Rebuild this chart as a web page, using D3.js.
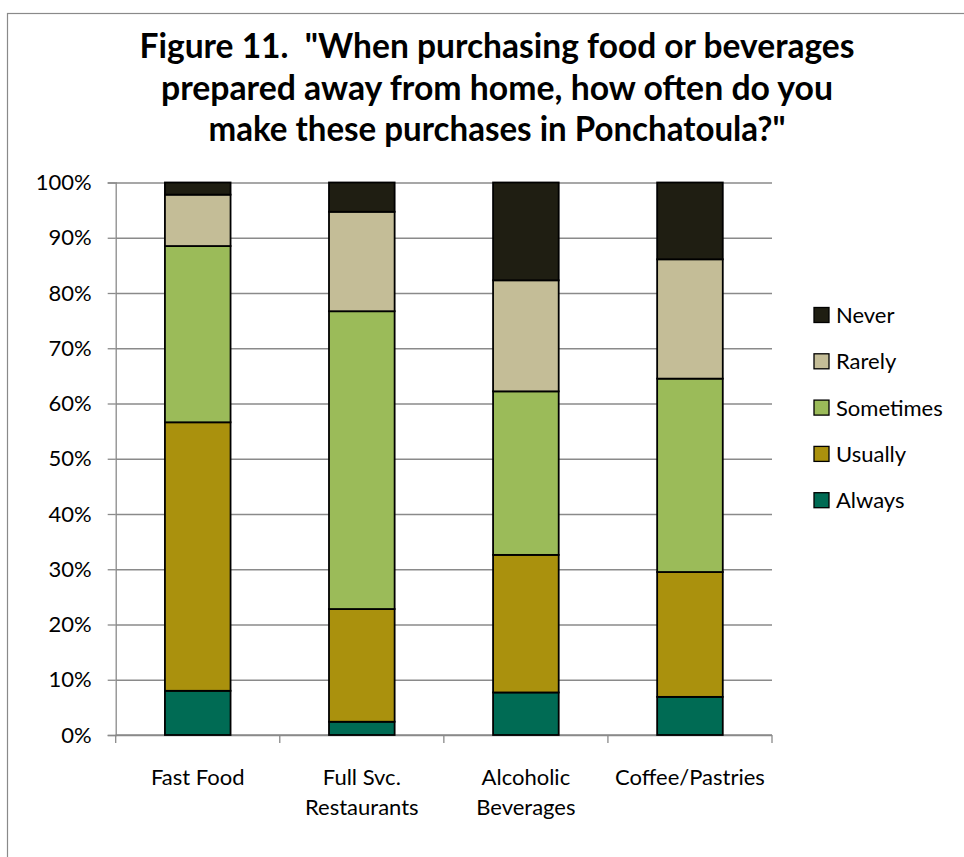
<!DOCTYPE html>
<html>
<head>
<meta charset="utf-8">
<script src="https://cdn.jsdelivr.net/npm/d3@7"></script>
<style>
  html, body { margin: 0; padding: 0; background: #fff; }
  svg { display: block; font-family: Lato, "Open Sans", sans-serif; }
  .title tspan { white-space: pre; }
</style>
</head>
<body>
<svg id="chart" width="964" height="857"></svg>
<script>
// Survey categories (each label may wrap onto two lines)
const categories = ["Fast Food", "Full Svc. Restaurants", "Alcoholic Beverages", "Coffee/Pastries"];
const categoryLines = [["Fast Food"], ["Full Svc.", "Restaurants"], ["Alcoholic", "Beverages"], ["Coffee/Pastries"]];

// Response shares, percent of respondents per category
const always    = [8.0, 2.4, 7.7, 6.9];
const usually   = [48.6, 20.4, 24.9, 22.6];
const sometimes = [31.9, 53.9, 29.6, 35.0];
const rarely    = [9.3, 18.0, 20.1, 21.6];
const never     = [2.2, 5.3, 17.7, 13.9];

const seriesNames = ["Always", "Usually", "Sometimes", "Rarely", "Never"];
const seriesColors = ["#006b54", "#aa910d", "#9bbb59", "#c4bd97", "#1f1e12"];
const yTicks = [0, 10, 20, 30, 40, 50, 60, 70, 80, 90, 100];

const titleLines = [
  "Figure 11.  \"When purchasing food or beverages",
  "prepared away from home, how often do you",
  "make these purchases in Ponchatoula?\""
];

const seriesValues = [always, usually, sometimes, rarely, never];
const rows = categories.map((c, i) => {
  const r = { category: c };
  seriesNames.forEach((s, k) => { r[s] = seriesValues[k][i]; });
  return r;
});

const svg = d3.select("#chart");

// chart frame
svg.append("rect")
  .attr("x", 7.5).attr("y", 13.5)
  .attr("width", 1000).attr("height", 900)
  .attr("fill", "#fff").attr("stroke", "#8a8a8a").attr("stroke-width", 1.2);

// title
const title = svg.append("text")
  .attr("class", "title")
  .attr("text-anchor", "middle")
  .attr("font-weight", 700)
  .attr("font-size", 34)
  .attr("fill", "#000");
const titleWidths = [715, 672, 577];
titleLines.forEach((t, i) => {
  title.append("tspan")
    .attr("x", 497)
    .attr("y", 58 + i * 41.5)
    .attr("textLength", titleWidths[i])
    .attr("lengthAdjust", "spacingAndGlyphs")
    .text(t);
});

const plot = { left: 115.7, right: 772, top: 182.5, bottom: 735 };

const x = d3.scaleBand()
  .domain(categories)
  .range([plot.left, plot.right])
  .paddingInner(0.6)
  .paddingOuter(0.3);

const y = d3.scaleLinear()
  .domain([0, 100])
  .range([plot.bottom, plot.top]);

// horizontal gridlines
svg.append("g")
  .attr("transform", `translate(${plot.left},0)`)
  .call(d3.axisLeft(y).tickValues(yTicks).tickSize(-(plot.right - plot.left)).tickFormat(""))
  .call(g => g.select(".domain").remove())
  .call(g => g.selectAll("line").attr("stroke", "#8a8a8a").attr("stroke-width", 1.3));

// y axis with tick marks and labels
svg.append("g")
  .attr("transform", `translate(${plot.left},0)`)
  .call(d3.axisLeft(y).tickValues(yTicks).tickSize(8).tickPadding(16).tickFormat(d => d + "%"))
  .call(g => g.select(".domain").attr("stroke", "#8a8a8a").attr("stroke-width", 1.3))
  .call(g => g.selectAll("line").attr("stroke", "#8a8a8a").attr("stroke-width", 1.3))
  .call(g => g.selectAll("text")
    .attr("font-family", "Lato, sans-serif")
    .attr("font-size", 22)
    .attr("fill", "#000"));

// x axis baseline and category ticks at band boundaries
const step = x.step();
const x0 = plot.left;
const xAxis = svg.append("g");
xAxis.append("line")
  .attr("x1", plot.left).attr("x2", plot.right)
  .attr("y1", plot.bottom).attr("y2", plot.bottom)
  .attr("stroke", "#8a8a8a").attr("stroke-width", 1.3);
xAxis.selectAll("line.tick")
  .data(d3.range(categories.length + 1))
  .join("line")
  .attr("class", "tick")
  .attr("x1", i => x0 + i * step).attr("x2", i => x0 + i * step)
  .attr("y1", plot.bottom).attr("y2", plot.bottom + 8)
  .attr("stroke", "#8a8a8a").attr("stroke-width", 1.3);

// category labels
categories.forEach((c, i) => {
  const t = svg.append("text")
    .attr("text-anchor", "middle")
    .attr("font-size", 22)
    .attr("fill", "#000");
  categoryLines[i].forEach((line, j) => {
    t.append("tspan")
      .attr("x", x(c) + x.bandwidth() / 2)
      .attr("y", 785 + j * 30)
      .text(line);
  });
});

// stacked bars
const stack = d3.stack().keys(seriesNames);
const layers = stack(rows);

svg.append("g")
  .selectAll("g")
  .data(layers)
  .join("g")
  .attr("fill", (d, i) => seriesColors[i])
  .selectAll("rect")
  .data(d => d)
  .join("rect")
  .attr("x", d => x(d.data.category))
  .attr("width", x.bandwidth())
  .attr("y", d => y(d[1]))
  .attr("height", d => y(d[0]) - y(d[1]))
  .attr("stroke", "#000")
  .attr("stroke-width", 1.8);

// legend, listed from top series to bottom
const legend = svg.append("g");
const legendOrder = seriesNames.map((s, i) => i).reverse();
legendOrder.forEach((k, row) => {
  const cy = 315 + row * 46.3;
  legend.append("rect")
    .attr("x", 814).attr("y", cy - 7.5)
    .attr("width", 15).attr("height", 15)
    .attr("fill", seriesColors[k])
    .attr("stroke", "#000").attr("stroke-width", 1.3);
  legend.append("text")
    .attr("x", 836).attr("y", cy + 8)
    .attr("font-size", 22)
    .attr("fill", "#000")
    .text(seriesNames[k]);
});
</script>
</body>
</html>
